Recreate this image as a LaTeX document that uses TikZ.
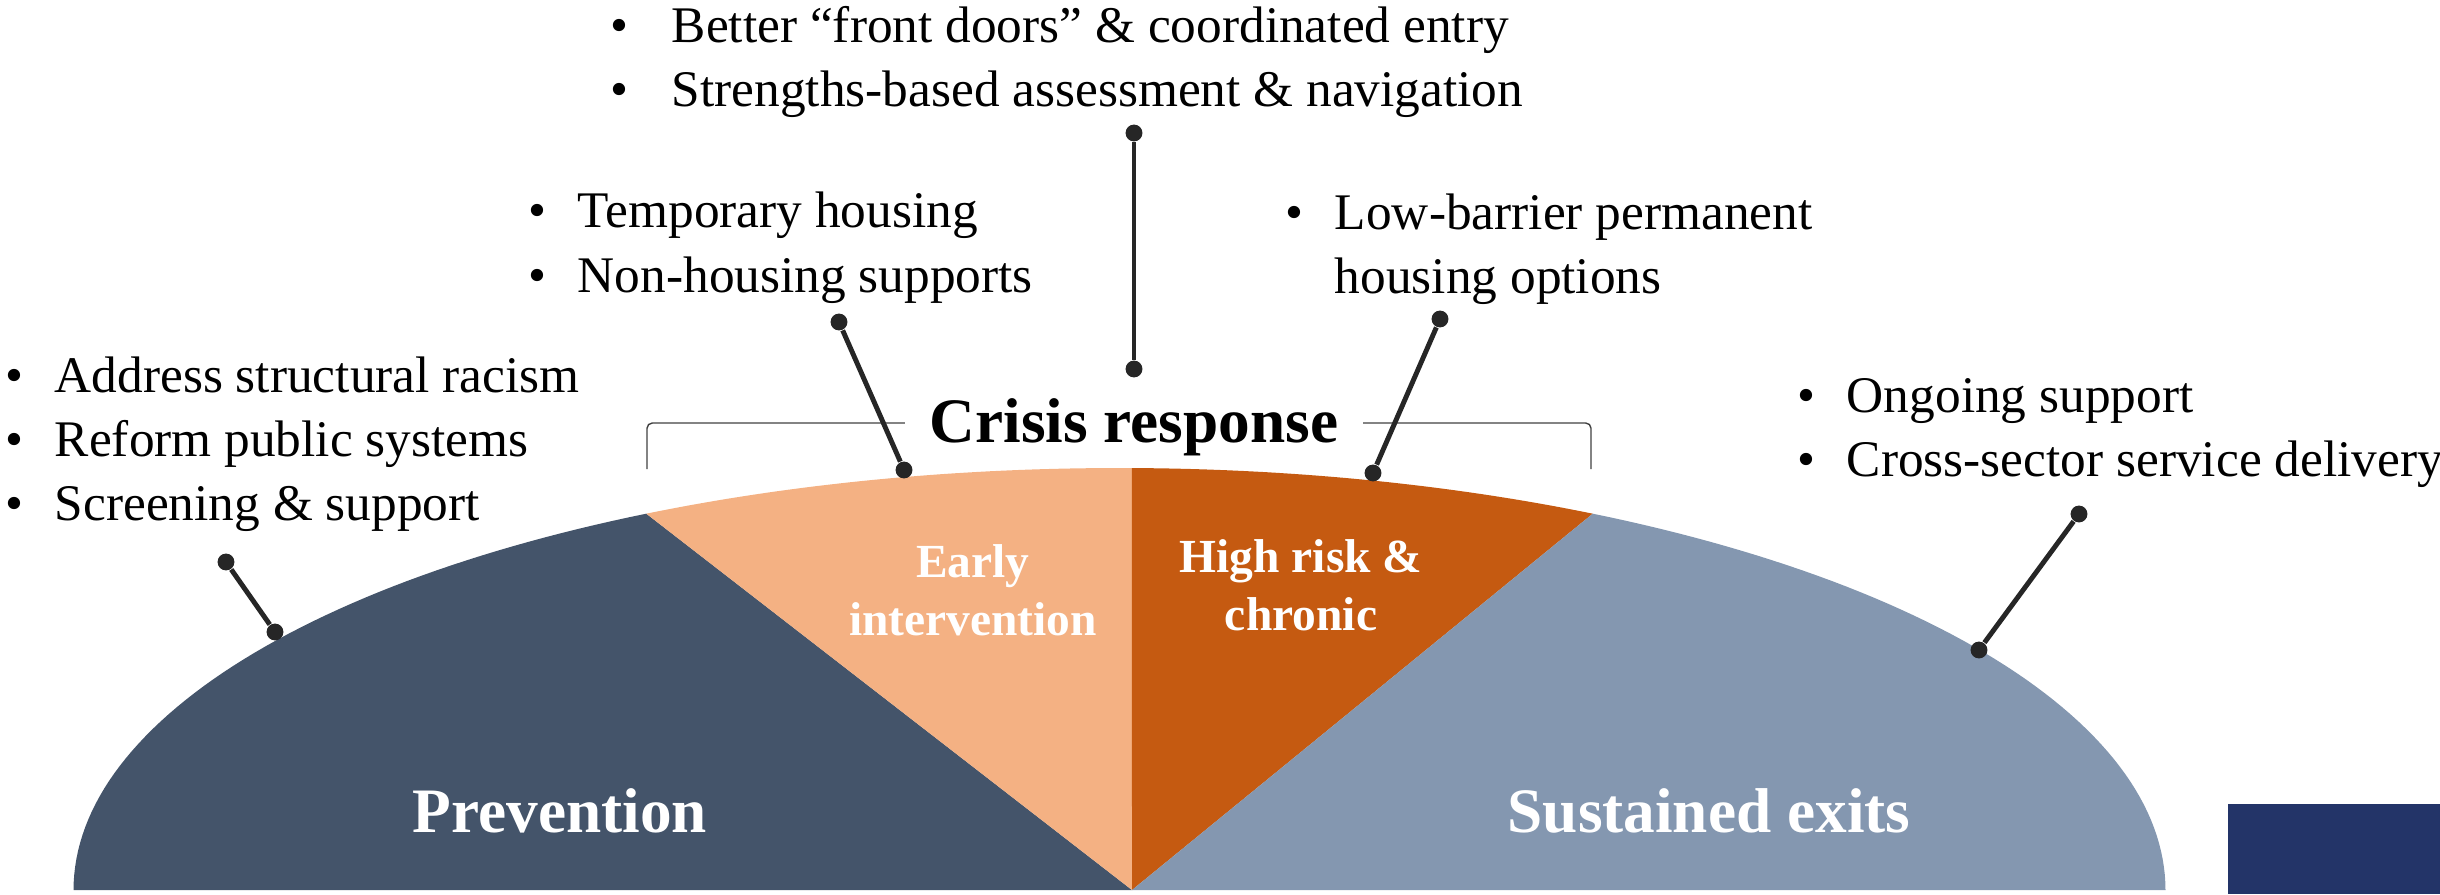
\documentclass[tikz,border=0pt]{standalone}
\usepackage{fontspec}
\setmainfont{Liberation Serif}
\usetikzlibrary{positioning}
\definecolor{PrevSlate}{RGB}{68,84,106}
\definecolor{EarlyPeach}{RGB}{244,177,131}
\definecolor{ChronicRust}{RGB}{197,90,17}
\definecolor{ExitBlue}{RGB}{132,151,176}
\definecolor{CornerNavy}{RGB}{35,52,104}
\definecolor{LeaderGray}{RGB}{38,38,38}
\definecolor{BracketGray}{RGB}{64,64,64}
\newcommand{\bitem}[1][14pt]{\makebox[#1][l]{\textbullet}}
\newcommand{\blist}[1]{\begin{tabular}[t]{@{}l@{}}#1\end{tabular}}
\newcommand{\clist}[1]{\begin{tabular}[t]{@{}c@{}}#1\end{tabular}}
\tikzset{
  notelist/.style={anchor=base west,inner sep=0pt,font=\fontsize{14.6}{18.2}\selectfont},
  stagelabel/.style={anchor=base,inner sep=0pt,text=white,font=\bfseries\fontsize{18}{22}\selectfont},
  sublabel/.style={anchor=base,inner sep=0pt,text=white,font=\bfseries\fontsize{13.5}{16.5}\selectfont},
  crisislabel/.style={anchor=base,fill=white,inner xsep=7pt,inner ysep=2pt,font=\bfseries\fontsize{18}{22}\selectfont},
  dot/.style={circle,fill=LeaderGray,inner sep=0pt,minimum size=4.8pt},
  leader/.style={draw=LeaderGray,line width=1.4pt},
  bracketline/.style={draw=BracketGray,line width=0.4pt,rounded corners=1.5pt}
}

\begin{document}
\begin{tikzpicture}[x=0.01cm,y=-0.01cm]
\useasboundingbox (0,0) rectangle (2440,894);
\coordinate (vtx) at (1132,890);
\fill[PrevSlate] (vtx) -- plot[domain=-180:-116.9,samples=60] ({1119.5+1046*cos(\x)},{890+422*sin(\x)}) -- cycle;
\fill[EarlyPeach] (vtx) -- plot[domain=-116.9:-89.32,samples=40] ({1119.5+1046*cos(\x)},{890+422*sin(\x)}) -- cycle;
\fill[ChronicRust] (vtx) -- plot[domain=-89.32:-63.1,samples=40] ({1119.5+1046*cos(\x)},{890+422*sin(\x)}) -- cycle;
\fill[ExitBlue] (vtx) -- plot[domain=-63.1:0,samples=60] ({1119.5+1046*cos(\x)},{890+422*sin(\x)}) -- cycle;
\fill[CornerNavy] (2228,804) rectangle (2440,894);

\node[stagelabel] (prev) at (560,832) {Prevention};
\node[stagelabel] (exits) at (1709,832) {Sustained exits};
\node[sublabel] (early) at (973,577) {\clist{Early\\intervention}};
\node[sublabel] (chronic) at (1301,572) {\clist{High risk \&\\chronic}};

\coordinate (brL) at (647,469);
\coordinate (brR) at (1591,469);
\draw[bracketline] (brL) -- ++(0,-46) -| (brR);
\node[crisislabel] (crisis) at (1134,442) {Crisis response};

\node[notelist] (entry) at (610,43) {\blist{\bitem[17.4pt]Better “front doors” \& coordinated entry\\
  \bitem[17.4pt]Strengths-based assessment \& navigation}};
\node[notelist] (temp) at (528,228) {\blist{\bitem Temporary housing\\ \bitem Non-housing supports}};
\node[notelist] (lowbar) at (1285,229) {\blist{\bitem Low-barrier permanent\\ \hspace*{14pt}housing options}};
\node[notelist] (struct) at (5,392) {\blist{\bitem Address structural racism\\ \bitem Reform public systems\\ \bitem Screening \& support}};
\node[notelist] (ongoing) at (1797,412) {\blist{\bitem Ongoing support\\ \bitem Cross-sector service delivery}};

\node[dot] (e1) at (1134,133) {};
\node[dot] (e2) at (1134,369) {};
\node[dot] (t1) at (839,322) {};
\node[dot] (t2) at (904,470) {};
\node[dot] (l1) at (1440,319) {};
\node[dot] (l2) at (1373,473) {};
\node[dot] (s1) at (226,562) {};
\node[dot] (s2) at (275,632) {};
\node[dot] (o1) at (2079,514) {};
\node[dot] (o2) at (1979,650) {};
\draw[leader] (e1) -- (e2);
\draw[leader] (t1) -- (t2);
\draw[leader] (l1) -- (l2);
\draw[leader] (s1) -- (s2);
\draw[leader] (o1) -- (o2);
\end{tikzpicture}
\end{document}
